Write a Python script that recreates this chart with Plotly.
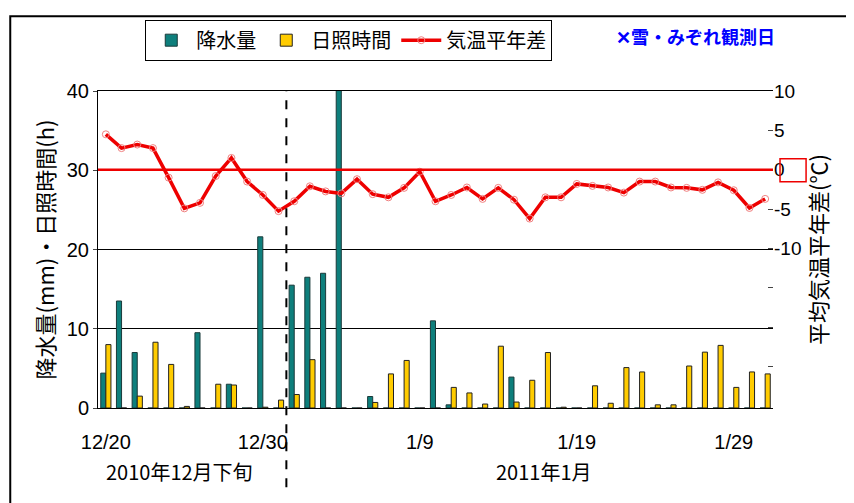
import plotly.graph_objects as go

days = list(range(43))
tick_vals = [0, 10, 20, 30, 40]
tick_text = ["12/20", "12/30", "1/9", "1/19", "1/29"]

precip = [4.4, 13.5, 7.0, 0, 0, 0, 9.5, 0, 3.0, 0, 21.6, 0, 15.5, 16.5, 17.0, 45.0, 0, 1.45, 0, 0, 0,
          11.0, 0.4, 0, 0, 0, 3.9, 0, 0, 0, 0, 0, 0, 0, 0, 0, 0, 0, 0, 0, 0, 0, 0]
sunshine = [8.0, 0, 1.5, 8.3, 5.5, 0.2, 0, 3.0, 2.9, 0, 0.1, 1.0, 1.7, 6.1, 0, 0, 0, 0.7, 4.3, 6.0, 0,
            0, 2.6, 1.9, 0.5, 7.8, 0.75, 3.5, 7.0, 0.1, 0, 2.8, 0.6, 5.1, 4.55, 0.4, 0.4, 5.3, 7.05, 7.9,
            2.6, 4.55, 4.3]
temp_diff = [4.5, 2.75, 3.2, 2.75, -1.0, -4.9, -4.2, -0.8, 1.5, -1.5, -3.2, -5.25, -4.0, -2.1, -2.75,
             -3.0, -1.2, -3.1, -3.5, -2.3, -0.25, -4.0, -3.2, -2.25, -3.7, -2.3, -3.8, -6.2, -3.5, -3.5,
             -1.8, -2.05, -2.25, -2.9, -1.5, -1.5, -2.25, -2.3, -2.55, -1.6, -2.6, -4.85, -3.7]
snow_days = [5, 6, 7, 10, 11, 12, 17, 21, 23, 24, 26, 27, 35, 36, 37, 40, 41, 42]

jp = "Noto Sans CJK JP"

fig = go.Figure()
fig.add_trace(go.Bar(x=days, y=precip, name="降水量", marker=dict(color="#0e7f7c", line=dict(color="#1a3a3a", width=1))))
fig.add_trace(go.Bar(x=days, y=sunshine, name="日照時間", marker=dict(color="#ffcc00", line=dict(color="#222", width=1))))
fig.add_trace(go.Scatter(x=days, y=temp_diff, name="気温平年差", yaxis="y2", mode="lines+markers",
                         line=dict(color="#ee0000", width=3.5),
                         marker=dict(symbol="circle-open", size=7, color="#f08080", line=dict(width=1))))
# snow / sleet days, drawn just under the x axis
fig.add_trace(go.Scatter(x=snow_days, y=[-1.4] * len(snow_days), mode="markers", showlegend=False,
                         cliponaxis=False, marker=dict(symbol="x", size=13, color="#0000ff", line=dict(width=0))))

fig.update_layout(
    width=854, height=503, plot_bgcolor="white", paper_bgcolor="white",
    margin=dict(l=90, r=89, t=78, b=103),
    barmode="group", bargap=0.35, bargroupgap=0,
    font=dict(family=jp, size=18, color="black"),
    legend=dict(orientation="h", x=0.07, y=1.225, xanchor="left", yanchor="top", itemwidth=40,
                bordercolor="black", borderwidth=1, font=dict(size=20), traceorder="normal"),
    xaxis=dict(range=[-0.5, 42.5], tickvals=tick_vals, ticktext=tick_text, showgrid=False,
               showline=True, linecolor="black", mirror=True, ticks="outside", ticklen=16,
               tickcolor="rgba(0,0,0,0)", tickfont=dict(size=20, family="Arial")),
    yaxis=dict(range=[0, 40], dtick=10, showgrid=True, gridcolor="black", showline=True, linecolor="black",
               ticks="outside", ticklen=4, zeroline=False,
               title=dict(text="降水量(mm)・日照時間(h)", standoff=6, font=dict(size=22)),
               tickfont=dict(size=20, family="Arial")),
    yaxis2=dict(range=[-30.25, 10], overlaying="y", side="right", showgrid=False, zeroline=False,
                tickvals=[10, 5, 0, -5, -10, -15, -20, -25], ticktext=["10", "5", "0", "-5", "-10", "", "", ""],
                ticks="inside", ticklen=5, tickfont=dict(size=19, family="Arial"),
                title=dict(text="平均気温平年差(℃)", standoff=6, font=dict(size=22))),
    shapes=[
        dict(type="line", xref="paper", yref="y2", x0=0, x1=1, y0=0, y1=0, line=dict(color="#ee0000", width=2.5)),
        dict(type="line", xref="x", yref="paper", x0=11.5, x1=11.5, y0=-0.25, y1=1, line=dict(color="black", width=2, dash="dash")),
        dict(type="rect", xref="paper", yref="paper", x0=1.0104, x1=1.049, y0=0.714, y1=0.786, line=dict(color="#ee0000", width=1.5)),
        dict(type="rect", xref="paper", yref="paper", x0=-0.13, x1=1.124, y0=-0.31, y1=1.236, line=dict(color="black", width=2)),
    ],
    annotations=[
        dict(text="<b>✕雪・みぞれ観測日</b>", xref="paper", yref="paper", x=0.765, y=1.175, xanchor="left", yanchor="middle",
             showarrow=False, font=dict(color="#0000ff", size=18)),
        dict(text="2010年12月下旬", xref="paper", yref="paper", x=0.12, y=-0.2, xanchor="center", yanchor="middle",
             showarrow=False, font=dict(size=20)),
        dict(text="2011年1月", xref="paper", yref="paper", x=0.66, y=-0.2, xanchor="center", yanchor="middle",
             showarrow=False, font=dict(size=20)),
    ],
)

fig.write_html("out.html")
